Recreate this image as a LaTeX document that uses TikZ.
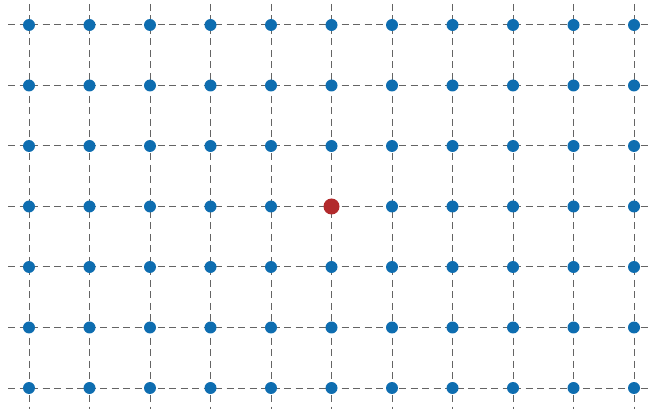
\documentclass[tikz,border=0pt]{standalone}
\usepackage{tikz}
\definecolor{siteblue}{RGB}{14,109,176}
\definecolor{sitered}{RGB}{178,42,44}
\definecolor{linegray}{RGB}{100,100,100}

\begin{document}
\begin{tikzpicture}[x=1pt, y=-1pt,
  site/.style={circle, fill=siteblue, inner sep=0pt, minimum size=12pt},
  origin/.style={circle, fill=sitered, inner sep=0pt, minimum size=16pt},
  gridline/.style={draw=linegray, line width=1pt, dash pattern=on 7pt off 4.5pt}]
  \useasboundingbox (0,0) rectangle (649,409);

  % grid lines
  \foreach \i in {0,...,10} {
    \coordinate (top\i) at ({29+60.5*\i},4);
    \coordinate (bot\i) at ({29+60.5*\i},409);
    \draw[gridline] (top\i) -- (bot\i);
  }
  \foreach \j in {0,...,6} {
    \coordinate (left\j) at (8,{25+60.5*\j});
    \coordinate (right\j) at (655,{25+60.5*\j});
    \draw[gridline] (left\j) -- (right\j);
  }

  % lattice sites
  \foreach \i in {0,...,10} {
    \foreach \j in {0,...,6} {
      \node[site] (s-\i-\j) at ({29+60.5*\i},{25+60.5*\j}) {};
    }
  }
  \node[origin] (s-5-3) at (s-5-3) {};
\end{tikzpicture}
\end{document}
